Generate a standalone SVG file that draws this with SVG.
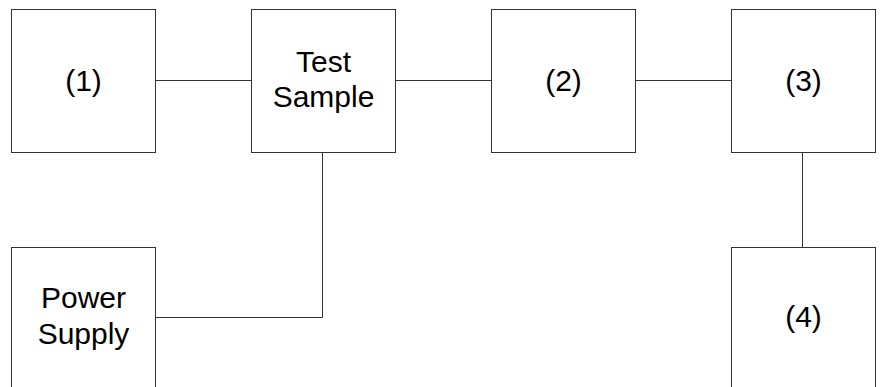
<svg xmlns="http://www.w3.org/2000/svg" width="896" height="387" viewBox="0 0 896 387">
<style>
.box{fill:#fff;stroke:#333;stroke-width:1}
.wire{fill:none;stroke:#333;stroke-width:1}
text{font-family:"Liberation Sans",Arial,sans-serif;font-size:30px;fill:#000;text-anchor:middle}
</style>
<rect width="896" height="387" fill="#fff"/>
<g id="connectors">
<path class="wire" d="M155.5 80.5H251.5"/>
<path class="wire" d="M395.5 80.5H491.5"/>
<path class="wire" d="M635.5 80.5H731.5"/>
<path class="wire" d="M322.5 152.5V317.5H155.5"/>
<path class="wire" d="M802.5 152.5V247.5"/>
</g>
<g id="n1"><rect class="box" x="11.5" y="9.5" width="144" height="143"/><text x="83.5" y="91">(1)</text></g>
<g id="test-sample"><rect class="box" x="251.5" y="9.5" width="144" height="143"/><text x="323.5" y="72">Test</text><text x="323.5" y="107">Sample</text></g>
<g id="n2"><rect class="box" x="491.5" y="9.5" width="144" height="143"/><text x="563.5" y="91">(2)</text></g>
<g id="n3"><rect class="box" x="731.5" y="9.5" width="144" height="143"/><text x="803.5" y="91">(3)</text></g>
<g id="power-supply"><rect class="box" x="11.5" y="247.5" width="144" height="143"/><text x="83.5" y="308">Power</text><text x="83.5" y="344">Supply</text></g>
<g id="n4"><rect class="box" x="731.5" y="247.5" width="144" height="143"/><text x="803.5" y="327">(4)</text></g>
</svg>
